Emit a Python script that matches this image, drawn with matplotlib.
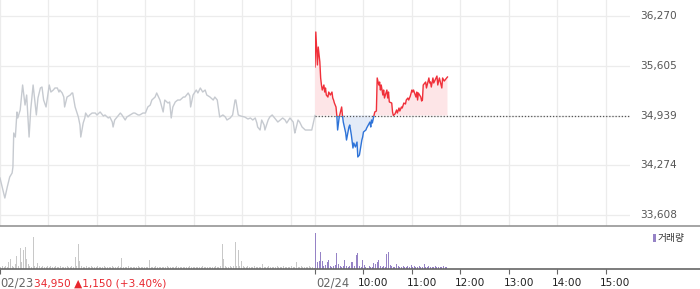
import matplotlib.pyplot as plt
import numpy as np
from matplotlib.patches import Rectangle
from matplotlib.lines import Line2D

# 가격 데이터 (분, 09:00 기준)
day1_min = [0, 6, 9, 12, 15, 16, 17, 19, 21, 22,
            25, 28, 31, 33, 36, 38, 41, 45, 47, 50,
            52, 54, 57, 61, 63, 66, 68, 71, 73, 74,
            77, 78, 79, 80, 83, 87, 89, 90, 93, 97,
            99, 100, 103, 105, 106, 109, 111, 114, 118, 120,
            124, 128, 130, 134, 136, 139, 140, 142, 145, 149,
            151, 155, 157, 161, 165, 167, 171, 173, 177, 180,
            183, 186, 188, 192, 194, 198, 202, 204, 208, 210,
            212, 214, 217, 220, 223, 227, 229, 233, 235, 236,
            239, 243, 245, 248, 251, 254, 256, 260, 264, 266,
            269, 272, 276, 279, 281, 285, 288, 291, 292, 295,
            298, 303, 307, 310, 313, 316, 318, 319, 322, 324,
            327, 328, 332, 334, 337, 340, 344, 347, 350, 353,
            355, 359, 363, 365, 366, 369, 371, 374, 378, 381,
            386, 390]
day1_price = [34103, 33835, 33983, 34116, 34170, 34250, 34705, 34651, 34986, 34906,
              35013, 35347, 35079, 35213, 34651, 35013, 35347, 34946, 35173, 35307,
              35320, 35146, 35053, 35347, 35253, 35280, 35307, 35307, 35253, 35280,
              35240, 35213, 35186, 35053, 35186, 35213, 35240, 35240, 35053, 34919,
              34812, 34651, 34839, 34906, 34972, 34919, 34946, 34972, 34972, 34946,
              34986, 34932, 34946, 34906, 34919, 34852, 34785, 34879, 34919, 34972,
              34946, 34879, 34919, 34946, 34972, 34972, 34946, 34946, 34972, 34972,
              35053, 35079, 35146, 35186, 35240, 35146, 34986, 35146, 35106, 35120,
              34906, 35053, 35120, 35146, 35146, 35186, 35186, 35240, 35200, 35053,
              35213, 35280, 35240, 35307, 35253, 35280, 35213, 35186, 35146, 35186,
              35146, 34919, 34946, 34919, 34879, 34906, 34946, 35146, 35146, 34946,
              34932, 34919, 34892, 34906, 34879, 34906, 34839, 34785, 34745, 34879,
              34812, 34745, 34879, 34919, 34946, 34906, 34852, 34879, 34906, 34879,
              34839, 34906, 34852, 34705, 34745, 34879, 34852, 34785, 34745, 34745,
              34745, 34939]

day2_min = [0, 1, 3, 4, 6, 7, 8, 9, 11, 12,
            13, 14, 16, 17, 19, 21, 22, 23, 24, 26,
            27, 28, 30, 33, 34, 35, 38, 39, 42, 43,
            45, 47, 48, 50, 52, 53, 55, 58, 59, 60,
            63, 64, 66, 68, 69, 70, 71, 73, 74, 76,
            77, 79, 80, 81, 82, 84, 85, 86, 89, 90,
            91, 92, 95, 96, 97, 99, 101, 102, 104, 105,
            107, 108, 110, 112, 113, 115, 116, 118, 120, 121,
            122, 125, 126, 127, 128, 131, 132, 133, 134, 137,
            138, 141, 142, 143, 144, 146, 147, 151, 152, 154,
            157, 158, 160, 163, 164]
day2_price = [35588, 36056, 35615, 35855, 35655, 35441, 35347, 35280, 35347, 35253,
              35307, 35213, 35186, 35253, 35213, 35253, 35173, 35146, 35106, 35053,
              34939, 34745, 34919, 35053, 34939, 34852, 34705, 34611, 34785, 34812,
              34678, 34504, 34571, 34518, 34584, 34384, 34411, 34611, 34651, 34718,
              34745, 34772, 34812, 34852, 34785, 34879, 34839, 34939, 34986, 34999,
              35441, 35347, 35387, 35280, 35347, 35213, 35280, 35173, 35280, 35173,
              35253, 35120, 35106, 34986, 34939, 34959, 35013, 34972, 35039, 34999,
              35053, 35039, 35106, 35093, 35146, 35173, 35146, 35200, 35280, 35253,
              35280, 35186, 35253, 35146, 35240, 35186, 35133, 35146, 35347, 35387,
              35307, 35441, 35374, 35387, 35320, 35441, 35374, 35467, 35347, 35441,
              35307, 35441, 35400, 35441, 35454]

base_price = 34939
y_levels = [36270, 35605, 34939, 34274, 33608]

# 거래량 (2분 단위)
vol_day1 = [2, 3, 2, 3, 2, 7, 10, 3, 2, 5, 13, 3, 21, 7, 19,
            22, 10, 5, 3, 2, 32, 3, 2, 6, 3, 2, 3, 2, 2, 3,
            2, 3, 2, 2, 3, 2, 2, 3, 2, 2, 2, 3, 2, 2, 3,
            2, 12, 3, 25, 8, 3, 2, 2, 3, 2, 2, 3, 2, 2, 2,
            3, 2, 2, 2, 3, 2, 2, 2, 2, 3, 2, 2, 2, 3, 2,
            11, 2, 2, 2, 3, 2, 2, 2, 2, 2, 3, 2, 2, 2, 2,
            2, 2, 9, 2, 2, 2, 3, 2, 2, 2, 2, 2, 2, 3, 2,
            2, 2, 2, 2, 3, 2, 2, 2, 2, 2, 2, 2, 3, 2, 2,
            2, 2, 2, 2, 2, 3, 2, 2, 2, 2, 2, 2, 2, 3, 2,
            2, 3, 25, 10, 3, 2, 2, 3, 2, 3, 27, 3, 19, 3, 8,
            3, 2, 2, 3, 2, 2, 2, 3, 2, 2, 2, 2, 5, 2, 2,
            2, 3, 2, 2, 2, 2, 3, 2, 2, 2, 3, 2, 2, 2, 2,
            3, 2, 2, 7, 2, 2, 3, 2, 2, 2, 2, 3, 2, 2, 1]
vol_day2 = [36, 7, 8, 17, 8, 3, 4, 7, 9, 3, 2, 3, 4, 16, 5,
            3, 2, 3, 9, 3, 2, 3, 7, 7, 3, 14, 16, 3, 2, 9,
            4, 2, 1, 3, 2, 2, 6, 5, 7, 9, 3, 2, 3, 2, 15,
            17, 4, 3, 2, 2, 5, 3, 2, 2, 3, 2, 2, 3, 2, 4,
            2, 3, 2, 2, 3, 2, 2, 5, 2, 2, 3, 2, 2, 2, 3,
            2, 2, 2, 2, 3, 2, 2]

time_ticks = [450, 510, 570, 630, 690, 750]
time_labels = ["10:00", "11:00", "12:00", "13:00", "14:00", "15:00"]

red = "#f0303a"
blue = "#2f74d8"

fig = plt.figure(figsize=(7, 2.89), dpi=100)
H = 289.0
ax = fig.add_axes([0, 1 - 225.7 / H, 0.9, 225.7 / H])
vax = fig.add_axes([0, 1 - 268.7 / H, 1.0, (268.7 - 226.5) / H])

# 가격 차트
ax.set_xlim(0, 780)
ax.set_ylim(33465, 36484)
for s in ax.spines.values():
    s.set_visible(False)
ax.set_xticks([])
ax.set_yticks([])

for lv in y_levels:
    ax.axhline(lv, color="#ececec", lw=0.9, zorder=0)
for gx in [0, 60, 120, 180, 240, 300, 360, 390] + time_ticks:
    ax.axvline(gx, color="#ececec", lw=0.9, zorder=0)

ax.plot(day1_min, day1_price, color="#c6cad0", lw=1.0, zorder=2)

x2 = np.array(day2_min) + 390
p2 = np.array(day2_price)
ax.fill_between(x2, p2, base_price, where=p2 >= base_price, interpolate=True,
                color="#fde5e7", lw=0, zorder=1)
ax.fill_between(x2, p2, base_price, where=p2 <= base_price, interpolate=True,
                color="#e3ebf8", lw=0, zorder=1)

up, = ax.plot(x2, p2, color=red, lw=1.0, zorder=3)
dn, = ax.plot(x2, p2, color=blue, lw=1.0, zorder=3)
up.set_clip_path(Rectangle((390, base_price), 400, 5000, transform=ax.transData))
dn.set_clip_path(Rectangle((390, base_price - 5000), 400, 5000, transform=ax.transData))

ax.plot([390, 780], [base_price, base_price], color="#555555", lw=0.9,
        linestyle=(0, (1, 1.5)), zorder=4)

for lv in y_levels:
    ax.text(1.016, lv, f"{lv:,}", transform=ax.get_yaxis_transform(),
            ha="left", va="center", fontsize=7.6, color="#555555", clip_on=False)

# 거래량 차트
vax.set_xlim(0, 700 / (630 / 780))
vax.set_ylim(0, 42)
xv1 = np.arange(len(vol_day1)) * 2 + 1
xv2 = np.arange(len(vol_day2)) * 2 + 1 + 390
vax.bar(xv1, vol_day1, width=1.3, color="#c8c8c8", lw=0)
vax.bar(xv2, vol_day2, width=1.3, color="#9683c6", lw=0)
for k in ["top", "left", "right"]:
    vax.spines[k].set_visible(False)
vax.spines["bottom"].set_color("#666666")
vax.spines["bottom"].set_linewidth(1.2)
vax.set_yticks([])
vax.set_xticks([0, 390] + time_ticks)
vax.tick_params(axis="x", direction="out", length=3.5, color="#666666",
                labelbottom=False)

lab_y = -14.3
vax.annotate("02/23", xy=(0, 0), xycoords=("data", "axes fraction"),
             xytext=(0, lab_y), textcoords="offset pixels",
             ha="left", va="center", fontsize=8.3, color="#666666")
vax.annotate("34,950 ▲1,150 (+3.40%)", xy=(0, 0), xycoords=("data", "axes fraction"),
             xytext=(33.5, lab_y), textcoords="offset pixels",
             ha="left", va="center", fontsize=7.6, color="#e8262e")
vax.annotate("02/24", xy=(390, 0), xycoords=("data", "axes fraction"),
             xytext=(1, lab_y), textcoords="offset pixels",
             ha="left", va="center", fontsize=8.3, color="#666666")
for tx, tl in zip(time_ticks, time_labels):
    vax.annotate(tl, xy=(tx, 0), xycoords=("data", "axes fraction"),
                 xytext=(-5.5, lab_y), textcoords="offset pixels",
                 ha="left", va="center", fontsize=7.6, color="#222222")

# 범례
fig.add_artist(Rectangle((653 / 700, 1 - 241.7 / H), 2.6 / 700, 7.7 / H,
                         transform=fig.transFigure, color="#9683c6", lw=0))
fig.text(658 / 700, 1 - 238 / H, "거래량", ha="left", va="center", fontsize=7,
         color="#333333", family=["Noto Sans CJK KR", "DejaVu Sans"])

# 구분선
fig.add_artist(Line2D([0, 1], [1 - 225.9 / H, 1 - 225.9 / H], transform=fig.transFigure,
                      color="#8c8c8c", lw=1.1))

fig.savefig("out.png", dpi=100)
